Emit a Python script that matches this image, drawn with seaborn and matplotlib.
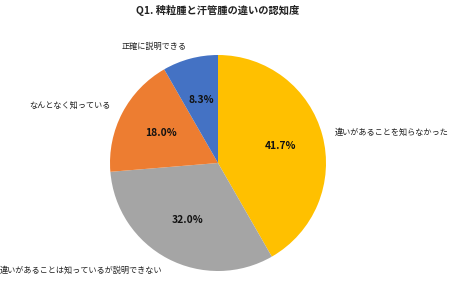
import numpy as np
import matplotlib
matplotlib.use('Agg')
import matplotlib.pyplot as plt
import seaborn as sns

# data
title = 'Q1. 稗粒腫と汗管腫の違いの認知度'
categories = ['違いがあることを知らなかった',
              '違いがあることは知っているが説明できない',
              'なんとなく知っている',
              '正確に説明できる']
values = [41.7, 32.0, 18.0, 8.3]
colors = ['#FFC000', '#A5A5A5', '#ED7D31', '#4472C4']

sns.set_theme(style='white')
plt.rcParams['font.family'] = ['Noto Sans CJK JP', 'DejaVu Sans']

W, H = 450, 304
fig = plt.figure(figsize=(W / 100, H / 100), dpi=100)
ax = fig.add_axes([0, 0, 1, 1])

cx, cy, r = 218, H - 163, 108

wedges, texts, autotexts = ax.pie(
    values, labels=categories, colors=colors,
    startangle=90, counterclock=False,
    center=(cx, cy), radius=r,
    labeldistance=1.12, pctdistance=0.6,
    autopct='%.1f%%',
    wedgeprops=dict(linewidth=0),
    textprops=dict(fontsize=5.9, color='#222222'))

# pie aligns labels against 0, not against the centre
for t in texts:
    x, y = t.get_position()
    t.set_horizontalalignment('right' if x < cx else 'left')

for t in autotexts:
    t.set_fontsize(7.4)
    t.set_fontweight('bold')
    t.set_color('#111111')

ax.set_xlim(0, W)
ax.set_ylim(0, H)
ax.set_aspect('equal')
ax.axis('off')

ax.text(cx, H - 10, title, ha='center', va='center',
        fontsize=7.4, fontweight='bold', color='#222222')

fig.savefig('out.png', dpi=100)
